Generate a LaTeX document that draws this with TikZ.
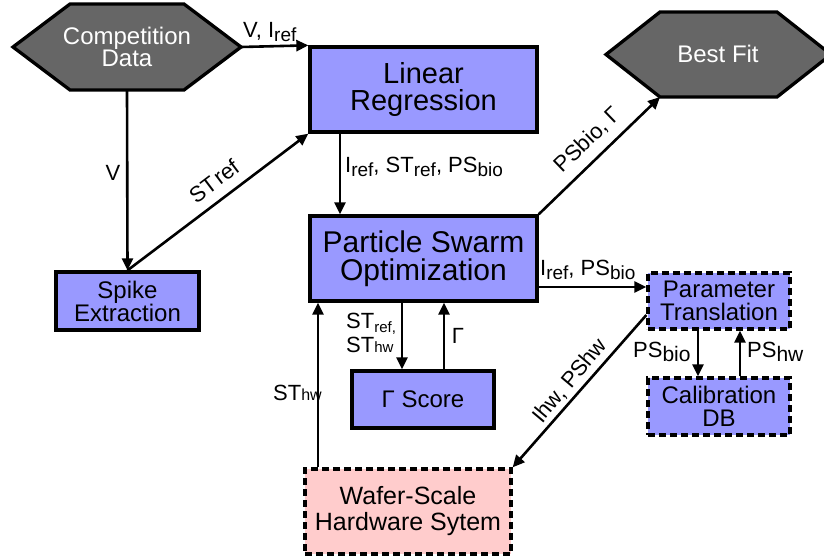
\documentclass[tikz,border=0pt]{standalone}
\usepackage{fontspec}
\setmainfont{Liberation Sans}
\usetikzlibrary{arrows.meta}
\definecolor{boxblue}{RGB}{153,153,255}
\definecolor{hexgray}{RGB}{102,102,102}
\definecolor{hwpink}{RGB}{255,204,204}
% lowered index text: \lo[size]{text}
\newcommand{\lo}[2][19]{\raisebox{-4pt}{\fontsize{#1}{#1}\selectfont #2}}
\newcommand{\smtxt}[2][15]{{\fontsize{#1}{#1}\selectfont #2}}

\begin{document}
\begin{tikzpicture}[x=1pt,y=-1pt,
  box/.style={draw, line width=3.3pt, fill=boxblue, align=center, inner sep=0pt,
              font=\fontsize{24}{23}\selectfont},
  dbox/.style={box, dash pattern=on 7pt off 4pt},
  hex/.style={draw, line width=3.3pt, fill=hexgray, line join=miter},
  hextext/.style={text=white, align=center, inner sep=0pt, font=\fontsize{24}{21}\selectfont},
  arr/.style={line width=2.6pt, -{Triangle[length=12pt,width=11pt]}},
  lab/.style={font=\fontsize{22}{24}\selectfont, inner sep=0pt},
]
\fill[white] (0,0) rectangle (824,557);
\useasboundingbox (0,0) rectangle (824,557);

% hexagonal terminals
\draw[hex] (13,47) -- (70,4) -- (184,4) -- (241,47) -- (184,90) -- (70,90) -- cycle;
\node[hextext] (cd) at (127,47) {Competition\\Data};
\coordinate (cdE) at (241,47);
\coordinate (cdS) at (127,90);

\draw[hex] (606,54.5) -- (660,12) -- (777,12) -- (831,54.5) -- (777,97) -- (660,97) -- cycle;
\node[hextext] (bf) at (718,54) {Best Fit};
\coordinate (bfSW) at (660,97);

% process boxes
\node[box, minimum width=227pt, minimum height=85pt, font=\fontsize{29}{27}\selectfont]
  (lr) at (423.5,89.5) {Linear\\Regression};
\node[box, minimum width=227pt, minimum height=85pt, font=\fontsize{30}{28}\selectfont]
  (pso) at (423.5,258.5) {Particle Swarm\\Optimization};
\node[box, minimum width=143pt, minimum height=58pt] (spk) at (127.5,301) {Spike\\Extraction};
\node[box, minimum width=142pt, minimum height=57pt] (gs) at (423,399.5) {Γ Score};
\node[dbox, minimum width=142pt, minimum height=56pt] (pt) at (719,301) {Parameter\\Translation};
\node[dbox, minimum width=142pt, minimum height=57pt] (cal) at (719,406.5) {Calibration\\DB};
\node[dbox, fill=hwpink, minimum width=206pt, minimum height=85pt, font=\fontsize{25}{26}\selectfont]
  (hw) at (408,511.5) {Wafer-Scale\\Hardware Sytem};

% connectors
\draw[arr] (cdE) -- (lr.north west);
\draw[arr] (cdS) -- (spk.north);
\draw[arr] (spk.north) -- (lr.south west);
\draw[arr] (340,0 |- lr.south) -- (340,0 |- pso.north);
\draw[arr] (pso.north east) -- (bfSW);
\draw[arr] (pso.east |- 0,287) -- (pt.west |- 0,287);
\draw[arr] (402,0 |- pso.south) -- (402,0 |- gs.north);
\draw[arr] (444,0 |- gs.north) -- (444,0 |- pso.south);
\draw[arr] (pt.west |- 0,315) -- (hw.north east);
\draw[arr] (698,0 |- pt.south) -- (698,0 |- cal.north);
\draw[arr] (740,0 |- cal.north) -- (740,0 |- pt.south);
\draw[arr] (318,0 |- hw.north) -- (318,0 |- pso.south);

% connector labels
\node[lab, anchor=base west] (lvi) at (243,37) {V, I\lo{ref}};
\node[lab] (lv) at (113,173) {V};
\node[lab, rotate=37] (lst) at (214,181) {ST\hspace{2pt}ref};
\node[lab, anchor=base west] (lirp) at (345,172) {I\lo{ref}, ST\lo{ref}, PS\lo{bio}};
\node[lab, rotate=44] (lpsg) at (588,140) {PSbio, Γ};
\node[lab, anchor=base west] (lip) at (540,275) {I\lo{ref}, PS\lo{bio}};
\node[lab, anchor=west, align=left] (lstst) at (346,333)
  {ST\lo[15]{ref,}\\ST\smtxt{hw}};
\node[lab] (lg) at (458,336) {Γ};
\node[lab, anchor=base west] (lsth) at (273,400) {ST\smtxt[16]{hw}};
\node[lab, anchor=base west] (lpb) at (633,357) {PS\lo[21]{bio}};
\node[lab, anchor=base west] (lph) at (747,357) {PS\lo[21]{hw}};
\node[lab, rotate=50] (lihw) at (570,381) {Ihw, PShw};
\end{tikzpicture}
\end{document}
